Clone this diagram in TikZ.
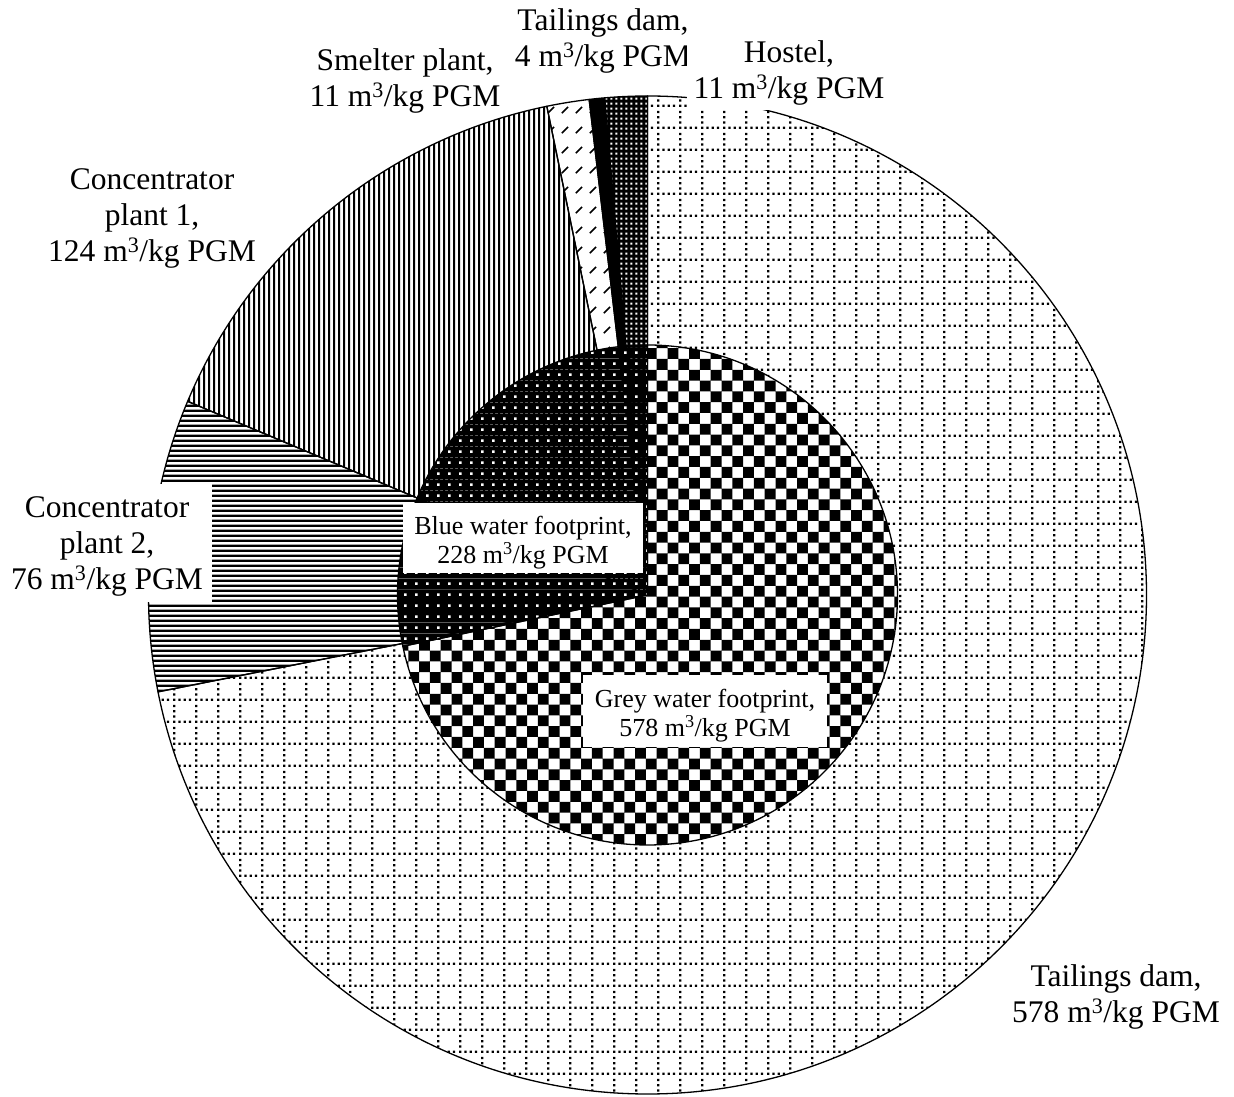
\documentclass[tikz,border=0pt]{standalone}
\usepackage{fontspec}
\setmainfont{Liberation Serif}
\usetikzlibrary{patterns}

% dotted grid (outer tailings dam)
\pgfdeclarepatternformonly{dotgrid}{\pgfpointorigin}{\pgfpoint{21.6pt}{21.6pt}}{\pgfpoint{21.6pt}{21.6pt}}{%
  \pgfpathrectangle{\pgfpoint{0pt}{0pt}}{\pgfpoint{2.3pt}{2.3pt}}%
  \pgfpathrectangle{\pgfpoint{5.4pt}{0pt}}{\pgfpoint{2.3pt}{2.3pt}}%
  \pgfpathrectangle{\pgfpoint{10.8pt}{0pt}}{\pgfpoint{2.3pt}{2.3pt}}%
  \pgfpathrectangle{\pgfpoint{16.2pt}{0pt}}{\pgfpoint{2.3pt}{2.3pt}}%
  \pgfpathrectangle{\pgfpoint{0pt}{5.4pt}}{\pgfpoint{2.3pt}{2.3pt}}%
  \pgfpathrectangle{\pgfpoint{0pt}{10.8pt}}{\pgfpoint{2.3pt}{2.3pt}}%
  \pgfpathrectangle{\pgfpoint{0pt}{16.2pt}}{\pgfpoint{2.3pt}{2.3pt}}%
  \pgfusepath{fill}}
% narrow vertical lines
\pgfdeclarepatternformonly{vlines}{\pgfpointorigin}{\pgfpoint{5.4pt}{5.4pt}}{\pgfpoint{5.4pt}{5.4pt}}{%
  \pgfpathrectangle{\pgfpointorigin}{\pgfpoint{2.3pt}{5.4pt}}\pgfusepath{fill}}
% narrow horizontal lines
\pgfdeclarepatternformonly{hlines}{\pgfpointorigin}{\pgfpoint{5.4pt}{5.4pt}}{\pgfpoint{5.4pt}{5.4pt}}{%
  \pgfpathrectangle{\pgfpointorigin}{\pgfpoint{5.4pt}{2.7pt}}\pgfusepath{fill}}
% dashed upward diagonal
\pgfdeclarepatternformonly{dashdiag}{\pgfpointorigin}{\pgfpoint{14pt}{20pt}}{\pgfpoint{14pt}{20pt}}{%
  \pgfsetlinewidth{1.6pt}%
  \pgfpathmoveto{\pgfpoint{2pt}{4pt}}\pgfpathlineto{\pgfpoint{8.5pt}{10.5pt}}\pgfusepath{stroke}}
% black with fine white dots (hostel)
\pgfdeclarepatterninherentlycolored{finewhitedots}{\pgfpointorigin}{\pgfpoint{5.4pt}{5.4pt}}{\pgfpoint{5.4pt}{5.4pt}}{%
  \pgfsetfillcolor{black}\pgfpathrectangle{\pgfpointorigin}{\pgfpoint{5.4pt}{5.4pt}}\pgfusepath{fill}%
  \pgfsetfillcolor{white}\pgfpathrectangle{\pgfpoint{1.6pt}{1.6pt}}{\pgfpoint{2.2pt}{2.2pt}}\pgfusepath{fill}}
% black with white dots (blue water footprint)
\pgfdeclarepatterninherentlycolored{whitedots}{\pgfpointorigin}{\pgfpoint{10.8pt}{10.8pt}}{\pgfpoint{10.8pt}{10.8pt}}{%
  \pgfsetfillcolor{black}\pgfpathrectangle{\pgfpointorigin}{\pgfpoint{10.8pt}{10.8pt}}\pgfusepath{fill}%
  \pgfsetfillcolor{white}\pgfpathrectangle{\pgfpoint{4.1pt}{4.1pt}}{\pgfpoint{2.6pt}{2.6pt}}\pgfusepath{fill}}

\begin{document}
\begin{tikzpicture}[x=1pt,y=1pt,
  sector/.style={draw=black,line width=1.3pt,line join=round},
  outlbl/.style={font=\fontsize{31.5}{36}\selectfont,align=center,anchor=base,inner sep=0pt},
  inlbl/.style={font=\fontsize{26}{29.5}\selectfont,align=center,anchor=base,fill=white,inner xsep=0pt}]
\useasboundingbox (0,0) rectangle (1234,1097);
\def\Rout{499}
\def\Rin{250}
\coordinate (C) at (647.5,502);

% outer ring
\path[sector,pattern=dotgrid] (C) -- ++(90:\Rout) arc[start angle=90,end angle=-168.806,radius=\Rout] -- cycle;
\path[sector,pattern=hlines] (C) -- ++(-168.806:\Rout) arc[start angle=-168.806,end angle=-202.836,radius=\Rout] -- cycle;
\path[sector,pattern=vlines] (C) -- ++(-202.836:\Rout) arc[start angle=-202.836,end angle=-258.358,radius=\Rout] -- cycle;
\path[sector,pattern=dashdiag] (C) -- ++(-258.358:\Rout) arc[start angle=-258.358,end angle=-263.284,radius=\Rout] -- cycle;
\path[sector,fill=black] (C) -- ++(-263.284:\Rout) arc[start angle=-263.284,end angle=-265.075,radius=\Rout] -- cycle;
\path[sector,pattern=finewhitedots] (C) -- ++(-265.075:\Rout) arc[start angle=-265.075,end angle=-270,radius=\Rout] -- cycle;

% inner pie: grey water footprint (checker board)
\begin{scope}
  \clip (C) -- ++(90:\Rin) arc[start angle=90,end angle=-168.164,radius=\Rin] -- cycle;
  \fill[white] (C) circle[radius=\Rin];
  \fill[black] \foreach \j in {0,...,46} { \foreach \i in {0,...,23} {
      ({397.5+(2*\i+mod(\j,2))*10.8},{252+\j*10.8}) rectangle ++(10.8,10.8) } };
\end{scope}
\draw[sector] (C) -- ++(90:\Rin) arc[start angle=90,end angle=-168.164,radius=\Rin] -- cycle;
% inner pie: blue water footprint
\path[sector,pattern=whitedots] (C) -- ++(-168.164:\Rin) arc[start angle=-168.164,end angle=-270,radius=\Rin] -- cycle;

% labels (anchor = baseline of the last line)
\node[outlbl] (ltd4) at (603,1030) {Tailings dam,\\4 m\textsuperscript{3}/kg PGM};
\node[outlbl,fill=white,inner xsep=7pt,inner ysep=4pt] (lhos) at (789,998) {Hostel,\\11 m\textsuperscript{3}/kg PGM};
\node[outlbl] (lsme) at (405,990) {Smelter plant,\\11 m\textsuperscript{3}/kg PGM};
\node[outlbl] (lcp1) at (152,835) {Concentrator\\plant 1,\\124 m\textsuperscript{3}/kg PGM};
\node[outlbl,fill=white,minimum width=210pt,inner ysep=5.1pt] (lcp2) at (107,507) {\rule{0pt}{28.9pt}Concentrator\\plant 2,\\76 m\textsuperscript{3}/kg PGM};
\node[outlbl] (ltd) at (1116,74) {Tailings dam,\\578 m\textsuperscript{3}/kg PGM};
\node[inlbl,minimum width=240pt,inner ysep=3.3pt] (lblue) at (523,533) {\rule{0pt}{27.7pt}Blue water footprint,\\228 m\textsuperscript{3}/kg PGM};
\node[inlbl,minimum width=244pt,inner ysep=4.3pt] (lgrey) at (705,360) {\rule{0pt}{27.7pt}Grey water footprint,\\578 m\textsuperscript{3}/kg PGM};
\end{tikzpicture}
\end{document}
